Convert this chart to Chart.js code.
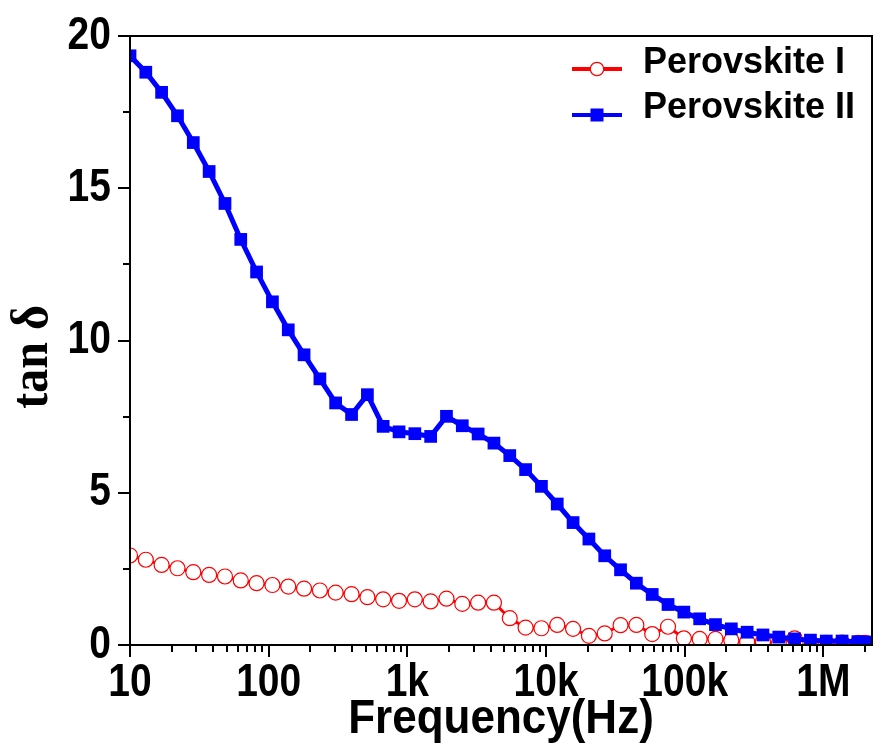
<!DOCTYPE html>
<html><head><meta charset="utf-8">
<script src="https://cdn.jsdelivr.net/npm/chart.js@4/dist/chart.umd.min.js"></script>
<style>html,body{margin:0;padding:0;background:#fff;}#wrap{width:881px;height:754px;}</style>
</head><body><div id="wrap"><canvas id="c" width="881" height="754"></canvas></div>
<script>
// ---- data ----
const frequencies = [10, 13.0, 16.9, 22.0, 28.6, 37.2, 48.4, 62.9, 81.8, 106.4,
  138.4, 179.9, 234, 304, 396, 515, 669, 871, 1132, 1472,
  1914, 2489, 3237, 4210, 5475, 7120, 9260, 12040, 15660, 20370,
  26490, 34450, 44800, 58260, 75770, 98500, 128100, 166600, 216700, 281800,
  366400, 476500, 619700, 805900, 1048000, 1363000, 1772000, 2000000];
const perovskiteI = [2.94, 2.80, 2.63, 2.52, 2.39, 2.30, 2.25, 2.12, 2.03, 1.97,
  1.92, 1.85, 1.79, 1.72, 1.67, 1.57, 1.50, 1.45, 1.50, 1.43,
  1.52, 1.35, 1.39, 1.39, 0.88, 0.57, 0.55, 0.66, 0.53, 0.30,
  0.38, 0.65, 0.66, 0.36, 0.60, 0.22, 0.20, 0.20, 0.16, 0.11,
  0.11, 0.05, 0.22, 0.08, 0.07, 0.08, 0.07, 0.07];
const perovskiteII = [19.35, 18.81, 18.15, 17.38, 16.50, 15.55, 14.50, 13.32, 12.25, 11.27,
  10.35, 9.53, 8.74, 7.95, 7.57, 8.22, 7.18, 7.00, 6.94, 6.85,
  7.51, 7.20, 6.93, 6.63, 6.22, 5.76, 5.21, 4.63, 4.02, 3.48,
  2.93, 2.47, 2.03, 1.66, 1.33, 1.08, 0.86, 0.67, 0.53, 0.42,
  0.33, 0.26, 0.20, 0.16, 0.13, 0.13, 0.11, 0.10];
const seriesNames = ['Perovskite I', 'Perovskite II'];
const xTickValues = [10, 100, 1000, 10000, 100000, 1000000];
const xTickLabels = ['10', '100', '1k', '10k', '100k', '1M'];
const yTickValues = [0, 5, 10, 15, 20];
const xTitle = 'Frequency(Hz)';
const yTitle = 'tan \u03b4';

const RED = '#ff0000', BLUE = '#0000ff';
const SANS = '"Liberation Sans", Arial, sans-serif';

function pts(vals) { return frequencies.map((f, i) => ({x: f, y: vals[i]})); }

// vertical text stretch to mimic the tall glyphs of the original figure
function stretchFor(font) {
  if (font.indexOf('39px') >= 0) return 1.17;
  if (font.indexOf('44px') >= 0) return 1.1;
  if (font.indexOf('48px') >= 0) return 1.1;
  return 1;
}

const framePlugin = {
  id: 'frame',
  beforeDraw(chart) {
    const ctx = chart.ctx;
    if (!ctx._origFillText) {
      ctx._origFillText = ctx.fillText;
      ctx.fillText = function (t, x, y, mw) {
        const s = stretchFor(this.font);
        if (s === 1) return mw === undefined ? this._origFillText(t, x, y) : this._origFillText(t, x, y, mw);
        this.save();
        this.translate(x, y);
        this.scale(1, s);
        if (mw === undefined) this._origFillText(t, 0, 0); else this._origFillText(t, 0, 0, mw);
        this.restore();
      };
    }
  },
  afterDatasetsDraw(chart) {
    const {ctx, chartArea: a, scales: {x, y}} = chart;
    ctx.save();
    ctx.strokeStyle = '#000';
    ctx.lineWidth = 2;
    ctx.strokeRect(a.left, a.top, a.right - a.left, a.bottom - a.top);
    ctx.beginPath();
    for (let e = 1; e <= 7; e++) {
      for (let m = 1; m <= 9; m++) {
        const v = m * Math.pow(10, e);
        if (v < x.min || v > x.max) continue;
        const px = Math.round(x.getPixelForValue(v));
        const len = m === 1 ? 12 : 7;
        ctx.moveTo(px, a.bottom); ctx.lineTo(px, a.bottom + len);
      }
    }
    for (let v = 0; v <= 20.001; v += 2.5) {
      const py = Math.round(y.getPixelForValue(v));
      const major = Math.abs(v % 5) < 0.01;
      const len = major ? 12 : 7;
      ctx.moveTo(a.left, py); ctx.lineTo(a.left - len, py);
    }
    ctx.stroke();
    ctx.restore();
  },
  afterDraw(chart) {
    const {ctx, chartArea: a} = chart;
    ctx.save();
    ctx.translate(33, 357);
    ctx.rotate(-Math.PI / 2);
    ctx.font = 'bold 48px "Liberation Serif", "Times New Roman", serif';
    ctx.fillStyle = '#000';
    ctx.textAlign = 'center';
    ctx.textBaseline = 'middle';
    ctx.fillText(yTitle, 0, 0);
    ctx.restore();
    // legend
    ctx.save();
    const textRows = [63, 108];
    const lineRows = [69, 115];
    const ds = chart.data.datasets;
    ctx.font = 'bold 36px ' + SANS;
    ctx.textBaseline = 'middle';
    ctx.textAlign = 'left';
    [0, 1].forEach(i => {
      const d = ds[i];
      const ly = lineRows[i];
      const x0 = a.right - 300, x1 = x0 + 50, xm = (x0 + x1) / 2;
      ctx.strokeStyle = d.borderColor;
      ctx.lineWidth = 4;
      ctx.beginPath(); ctx.moveTo(x0, ly); ctx.lineTo(x1, ly); ctx.stroke();
      if (d.pointStyle === 'circle') {
        ctx.beginPath(); ctx.arc(xm, ly, 6.7, 0, Math.PI * 2);
        ctx.fillStyle = '#fff'; ctx.fill();
        ctx.lineWidth = 1.2; ctx.strokeStyle = d.borderColor; ctx.stroke();
      } else {
        ctx.fillStyle = d.borderColor;
        ctx.fillRect(xm - 6.5, ly - 6.5, 13, 13);
      }
      ctx.fillStyle = '#000';
      ctx.fillText(d.label, x1 + 21, textRows[i]);
    });
    ctx.restore();
  }
};

new Chart(document.getElementById('c'), {
  type: 'line',
  data: {
    datasets: [
      {
        label: seriesNames[0], data: pts(perovskiteI), order: 2,
        borderColor: RED, backgroundColor: '#fff', borderWidth: 3,
        pointStyle: 'circle', pointRadius: 7.5, pointBackgroundColor: '#fff',
        pointBorderColor: RED, pointBorderWidth: 1.2, tension: 0
      },
      {
        label: seriesNames[1], data: pts(perovskiteII), order: 1,
        borderColor: BLUE, backgroundColor: BLUE, borderWidth: 5,
        pointStyle: 'rect', pointRadius: 9, pointBackgroundColor: BLUE,
        pointBorderColor: BLUE, pointBorderWidth: 0, tension: 0
      }
    ]
  },
  options: {
    responsive: false, animation: false, devicePixelRatio: 1,
    layout: {padding: {left: 0, right: 2, top: 36, bottom: 0}},
    plugins: {legend: {display: false}, tooltip: {enabled: false}},
    scales: {
      x: {
        type: 'logarithmic', min: 10, max: 2240000,
        grid: {display: false, drawTicks: true, tickLength: 12},
        border: {display: false},
        afterBuildTicks(s) { s.ticks = xTickValues.map(v => ({value: v, major: true})); },
        afterFit(s) { s.height = 109; },
        ticks: {
          autoSkip: false, maxRotation: 0, padding: 3, color: '#000',
          font: {family: SANS, size: 39, weight: 'bold'},
          callback(v) { const i = xTickValues.indexOf(v); return i >= 0 ? xTickLabels[i] : ''; }
        },
        title: {
          display: true, text: xTitle, color: '#000', padding: {top: 0, bottom: 8},
          font: {family: SANS, size: 44, weight: 'bold'}
        }
      },
      y: {
        min: 0, max: 20,
        grid: {display: false, drawTicks: true, tickLength: 12},
        border: {display: false},
        afterBuildTicks(s) { s.ticks = yTickValues.map(v => ({value: v})); },
        afterFit(s) { s.width = 130; },
        ticks: {
          padding: 7, color: '#000',
          font: {family: SANS, size: 39, weight: 'bold'}
        }
      }
    }
  },
  plugins: [framePlugin]
});
</script></body></html>
